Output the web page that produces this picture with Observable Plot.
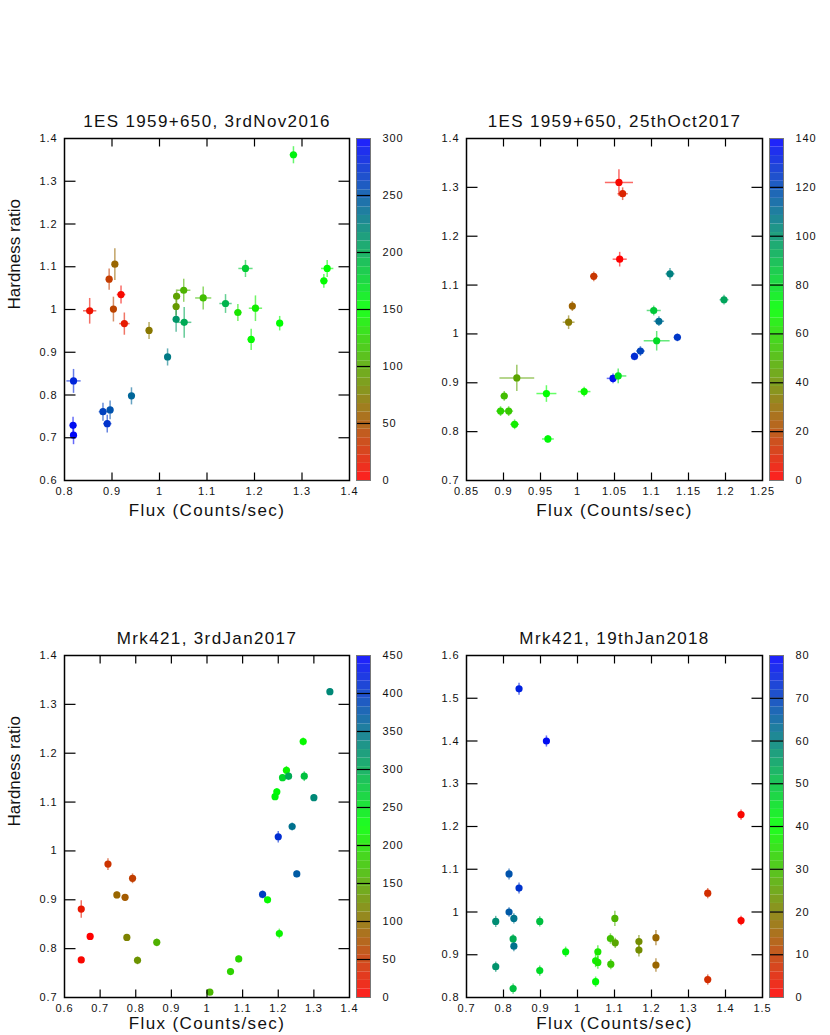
<!DOCTYPE html>
<html><head><meta charset="utf-8">
<script src="https://cdn.jsdelivr.net/npm/d3@7"></script>
<script src="https://cdn.jsdelivr.net/npm/@observablehq/plot@0.6"></script>
<style>
body{margin:0;background:#fff;}
#root{position:relative;width:830px;height:1035px;overflow:hidden;background:#fff;}
</style></head><body><div id="root"></div>
<script>
// ---- Panel 1: 1ES 1959+650, 3rdNov2016 ----
const p1Flux = [1.282,1.353,1.346,1.181,1.253,1.193,1.202,1.165,1.139,1.092,1.051,1.036,1.035,1.035,1.052,1.017,0.978,0.941,0.906,0.894,0.919,0.903,0.926,0.853,0.819,0.818,0.819,0.881,0.896,0.890];
const p1FluxErr = [0.008,0.013,0.008,0.015,0.007,0.008,0.014,0.008,0.013,0.017,0.014,0.006,0.006,0.006,0.015,0.006,0.007,0.006,0.005,0.007,0.009,0.006,0.011,0.014,0.015,0.007,0.006,0.009,0.007,0.009];
const p1HR = [1.362,1.096,1.067,1.096,0.968,0.930,1.003,0.993,1.014,1.027,1.045,1.031,1.007,0.977,0.970,0.889,0.951,0.798,1.106,1.071,1.035,1.001,0.967,0.997,0.833,0.729,0.706,0.761,0.765,0.733];
const p1HRErr = [0.02,0.02,0.016,0.02,0.017,0.025,0.03,0.02,0.022,0.027,0.027,0.016,0.021,0.029,0.036,0.02,0.02,0.02,0.037,0.025,0.021,0.029,0.026,0.03,0.028,0.02,0.021,0.021,0.022,0.021];
const p1Time = [158,150,148,180,150,147,140,135,195,112,105,95,90,212,200,228,70,240,60,35,5,40,15,10,278,292,296,262,252,270];

// ---- Panel 2: 1ES 1959+650, 25thOct2017 ----
const p2Flux = [1.056,1.061,1.057,1.022,0.993,0.988,1.125,1.198,1.103,1.110,1.107,1.135,1.085,1.077,1.048,1.055,0.918,0.958,1.009,0.901,0.896,0.907,0.915,0.960];
const p2FluxErr = [0.019,0.007,0.0095,0.005,0.004,0.008,0.006,0.006,0.0095,0.007,0.0175,0.005,0.006,0.005,0.0085,0.011,0.0235,0.0135,0.0085,0.005,0.006,0.006,0.006,0.008];
const p2HR = [1.310,1.287,1.153,1.118,1.057,1.024,1.123,1.070,1.048,1.026,0.986,0.993,0.965,0.954,0.909,0.914,0.910,0.878,0.882,0.873,0.842,0.842,0.815,0.785];
const p2HRErr = [0.027,0.013,0.015,0.01,0.01,0.014,0.012,0.01,0.01,0.01,0.02,0.008,0.01,0.008,0.01,0.015,0.027,0.017,0.01,0.01,0.01,0.01,0.01,0.008];
const p2Time = [2,10,0,15,27,33,105,95,85,110,80,125,122,128,135,78,45,70,68,52,58,55,65,72];

// ---- Panel 3: Mrk421, 3rdJan2017 ----
const p3Flux = [1.345,1.270,1.223,1.212,1.229,1.273,1.196,1.191,1.300,1.239,1.200,1.252,1.156,1.170,1.203,1.089,1.066,1.008,0.859,0.805,0.775,0.747,0.770,0.791,0.722,0.647,0.672,0.647];
const p3FluxErr = [0.004,0.004,0.004,0.004,0.004,0.004,0.004,0.004,0.004,0.004,0.004,0.004,0.004,0.004,0.004,0.004,0.004,0.004,0.004,0.004,0.004,0.004,0.004,0.004,0.004,0.004,0.004,0.004];
const p3HR = [1.326,1.224,1.165,1.150,1.153,1.153,1.121,1.111,1.109,1.050,1.029,0.953,0.911,0.900,0.831,0.779,0.753,0.711,0.813,0.776,0.823,0.910,0.905,0.944,0.973,0.881,0.825,0.777];
const p3HRErr = [0.007,0.008,0.009,0.007,0.008,0.01,0.008,0.007,0.007,0.008,0.012,0.007,0.008,0.006,0.01,0.007,0.006,0.006,0.008,0.008,0.006,0.007,0.007,0.01,0.012,0.018,0.006,0.006];
const p3Time = [330,220,215,260,300,280,230,235,330,350,410,370,395,220,215,190,185,160,155,130,115,90,80,55,45,20,0,5];

// ---- Panel 4: Mrk421, 19thJan2018 ----
const p4Flux = [0.842,0.916,1.442,0.815,0.842,1.352,0.815,0.828,0.779,0.898,1.442,1.101,0.826,0.828,1.089,1.102,1.166,1.166,1.212,1.212,1.352,0.968,1.055,1.049,1.055,1.090,1.049,0.898,0.779,0.826];
const p4FluxErr = [0.004,0.004,0.004,0.004,0.004,0.004,0.004,0.004,0.004,0.004,0.004,0.004,0.004,0.004,0.004,0.004,0.004,0.004,0.004,0.004,0.004,0.004,0.004,0.004,0.004,0.004,0.004,0.004,0.004,0.004];
const p4HR = [1.522,1.400,1.228,1.089,1.056,1.044,1.000,0.985,0.978,0.978,0.980,0.985,0.937,0.920,0.938,0.928,0.931,0.911,0.940,0.876,0.842,0.907,0.907,0.886,0.882,0.878,0.837,0.863,0.872,0.821];
const p4HRErr = [0.014,0.013,0.012,0.013,0.013,0.012,0.011,0.012,0.013,0.012,0.011,0.018,0.011,0.012,0.012,0.012,0.015,0.015,0.018,0.016,0.012,0.012,0.015,0.015,0.015,0.012,0.012,0.012,0.012,0.012];
const p4Time = [75,78,1,67,72,7,66,62,58,50,1,28,53,62,30,26,22,22,16,16,7,42,36,38,36,31,41,46,57,50];

// ---- titles and ticks ----
const titles = ["1ES 1959+650, 3rdNov2016", "1ES 1959+650, 25thOct2017", "Mrk421, 3rdJan2017", "Mrk421, 19thJan2018"];
const xLabel = "Flux (Counts/sec)";
const yLabel = "Hardness ratio";
const p1XTicks = [0.8,0.9,1,1.1,1.2,1.3,1.4];
const p1YTicks = [0.6,0.7,0.8,0.9,1,1.1,1.2,1.3,1.4];
const p2XTicks = [0.85,0.9,0.95,1,1.05,1.1,1.15,1.2,1.25];
const p2YTicks = [0.7,0.8,0.9,1,1.1,1.2,1.3,1.4];
const p3XTicks = [0.6,0.7,0.8,0.9,1,1.1,1.2,1.3,1.4];
const p3YTicks = [0.7,0.8,0.9,1,1.1,1.2,1.3,1.4];
const p4XTicks = [0.7,0.8,0.9,1,1.1,1.2,1.3,1.4,1.5];
const p4YTicks = [0.8,0.9,1,1.1,1.2,1.3,1.4,1.5,1.6];
const p1CTicks = [0,50,100,150,200,250,300];
const p2CTicks = [0,20,40,60,80,100,120,140];
const p3CTicks = [0,50,100,150,200,250,300,350,400,450];
const p4CTicks = [0,10,20,30,40,50,60,70,80];
const paletteColors = ["#ff0000", "#00ff00", "#0000ff"];

const FONT = '"Liberation Sans", Arial, Helvetica, sans-serif';
const root = document.getElementById("root");

function colorScale(max) {
  return {type: "linear", domain: [0, max / 2, max], range: paletteColors, interpolate: "rgb"};
}

function place(el, left, top) {
  el.style.position = "absolute";
  el.style.left = left + "px";
  el.style.top = top + "px";
  el.querySelectorAll("text").forEach(t => {
    const tr = t.getAttribute("transform") || "";
    if (!tr.includes("rotate")) t.style.letterSpacing = "0.08em";
  });
  root.appendChild(el);
}

function panel(cfg) {
  const rows = cfg.flux.map((f, i) => ({x: f, ex: cfg.fluxErr[i], y: cfg.hr[i], ey: cfg.hrErr[i], c: cfg.time[i]}));
  const fmt = d => String(d);
  const inner = xs => xs.slice(1, -1);
  const fw = cfg.width - cfg.ml - 3;          // frame width (px)
  const fh = cfg.height - 38 - cfg.mb;        // frame height (px)
  const xa = cfg.xDom[0], xb = cfg.xDom[1], ya = cfg.yDom[0], yb = cfg.yDom[1];
  const tlx = (yb - ya) * 8 / fh;             // x-tick length in y data units
  const tly = (xb - xa) * 11 / fw;            // y-tick length in x data units
  const layout = {
    width: cfg.width, height: cfg.height,
    marginLeft: cfg.ml, marginRight: 3, marginTop: 38, marginBottom: cfg.mb,
    x: {domain: cfg.xDom, axis: null}, y: {domain: cfg.yDom, axis: null}
  };
  const style = {background: "transparent", fontFamily: FONT, overflow: "visible", color: "#111"};

  const marks = [
    Plot.link(rows, {x1: d => d.x - d.ex, x2: d => d.x + d.ex, y1: "y", y2: "y", stroke: "c", strokeWidth: 1.5, strokeOpacity: 0.6}),
    Plot.link(rows, {x1: "x", x2: "x", y1: d => d.y - d.ey, y2: d => d.y + d.ey, stroke: "c", strokeWidth: 1.5, strokeOpacity: 0.6}),
    Plot.dot(rows, {x: "x", y: "y", fill: "c", r: 3.6}),
    Plot.axisX(cfg.xTicks, {anchor: "bottom", tickSize: 0, tickPadding: 7, fontSize: 11, tickFormat: fmt, label: null, fill: "#111"}),
    Plot.axisY(cfg.yTicks, {anchor: "left", tickSize: 0, tickPadding: 7, fontSize: 11, tickFormat: fmt, label: null, fill: "#111"}),
    Plot.frame({stroke: "#000", strokeWidth: 1.5}),
    Plot.text([cfg.title], {text: d => d, frameAnchor: "top", dy: -17, fontSize: 17, lineAnchor: "middle", fill: "#111"}),
    Plot.text([xLabel], {text: d => d, frameAnchor: "bottom", dy: cfg.xlDy, fontSize: 17, lineAnchor: "middle", fill: "#111"})
  ];
  if (cfg.showY) marks.push(Plot.text([yLabel], {text: d => d, frameAnchor: "left", dx: -50, rotate: -90, fontSize: 17, lineAnchor: "middle", fill: "#111"}));
  const svg = Plot.plot({...layout, color: colorScale(cfg.cMax), style, marks});
  place(svg, cfg.left, cfg.top);

  // overlay plot with the same scales, carrying the inward tick marks on all four sides
  const ticks = Plot.plot({
    ...layout, style,
    marks: [
      Plot.link(inner(cfg.xTicks), {x1: d => d, x2: d => d, y1: () => ya, y2: () => ya + tlx, stroke: "#000", strokeWidth: 1.2}),
      Plot.link(inner(cfg.xTicks), {x1: d => d, x2: d => d, y1: () => yb, y2: () => yb - tlx, stroke: "#000", strokeWidth: 1.2}),
      Plot.link(inner(cfg.yTicks), {y1: d => d, y2: d => d, x1: () => xa, x2: () => xa + tly, stroke: "#000", strokeWidth: 1.2}),
      Plot.link(inner(cfg.yTicks), {y1: d => d, y2: d => d, x1: () => xb, x2: () => xb - tly, stroke: "#000", strokeWidth: 1.2})
    ]
  });
  place(ticks, cfg.left, cfg.top);

  const N = 40;
  const bands = d3.range(N).map(i => ({lo: i * cfg.cMax / N, hi: (i + 1) * cfg.cMax / N}));
  const cb = Plot.plot({
    width: cfg.cbWidth, height: cfg.height,
    marginLeft: 4, marginRight: cfg.cbWidth - 4 - 14, marginTop: 38, marginBottom: cfg.mb,
    x: {domain: [0, 1], axis: null}, y: {domain: [0, cfg.cMax], axis: null},
    color: colorScale(cfg.cMax),
    style,
    marks: [
      Plot.rect(bands, {x1: 0, x2: 1, y1: "lo", y2: "hi", fill: d => (d.lo + d.hi) / 2, fillOpacity: 0.88}),
      Plot.link(cfg.cTicks.slice(1, -1), {x1: () => 0, x2: () => 1, y1: d => d, y2: d => d, stroke: "#000", strokeWidth: 1.2}),
      Plot.frame({stroke: "#777", strokeWidth: 1}),
      Plot.axisY(cfg.cTicks, {anchor: "right", tickSize: 0, tickPadding: 12, fontSize: 11, label: null, fill: "#111"})
    ]
  });
  place(cb, cfg.left + cfg.width, cfg.top);
}

panel({title: titles[0], flux: p1Flux, fluxErr: p1FluxErr, hr: p1HR, hrErr: p1HRErr, time: p1Time,
  xDom: [0.8, 1.4], yDom: [0.6, 1.4], xTicks: p1XTicks, yTicks: p1YTicks, cMax: 300, cTicks: p1CTicks,
  left: 0, top: 100, width: 352, height: 440, ml: 64, mb: 60, cbWidth: 70, showY: true, xlDy: 30});
panel({title: titles[1], flux: p2Flux, fluxErr: p2FluxErr, hr: p2HR, hrErr: p2HRErr, time: p2Time,
  xDom: [0.85, 1.25], yDom: [0.7, 1.4], xTicks: p2XTicks, yTicks: p2YTicks, cMax: 140, cTicks: p2CTicks,
  left: 406, top: 100, width: 359, height: 440, ml: 60, mb: 60, cbWidth: 65, showY: false, xlDy: 30});
panel({title: titles[2], flux: p3Flux, fluxErr: p3FluxErr, hr: p3HR, hrErr: p3HRErr, time: p3Time,
  xDom: [0.6, 1.4], yDom: [0.7, 1.4], xTicks: p3XTicks, yTicks: p3YTicks, cMax: 450, cTicks: p3CTicks,
  left: 0, top: 617, width: 352, height: 418, ml: 64, mb: 38, cbWidth: 70, showY: true, xlDy: 26});
panel({title: titles[3], flux: p4Flux, fluxErr: p4FluxErr, hr: p4HR, hrErr: p4HRErr, time: p4Time,
  xDom: [0.7, 1.5], yDom: [0.8, 1.6], xTicks: p4XTicks, yTicks: p4YTicks, cMax: 80, cTicks: p4CTicks,
  left: 406, top: 617, width: 359, height: 418, ml: 60, mb: 38, cbWidth: 65, showY: false, xlDy: 26});
</script>
</body></html>
